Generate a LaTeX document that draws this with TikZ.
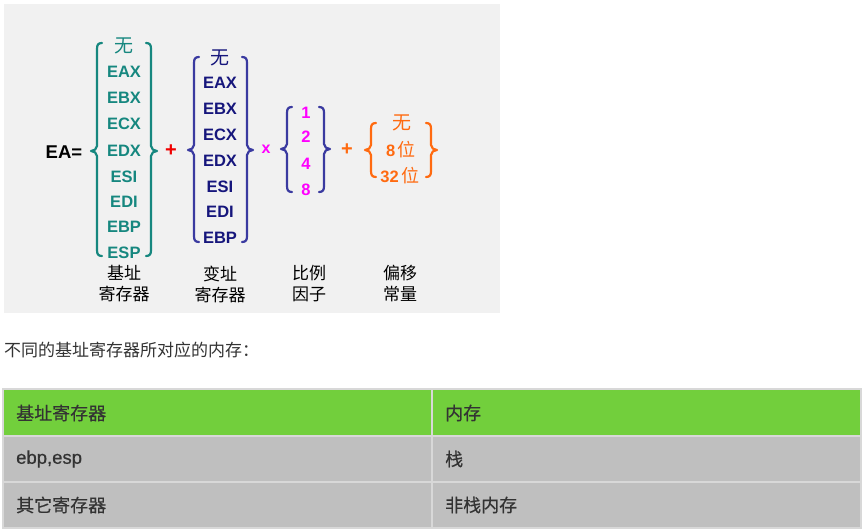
\documentclass[tikz,border=0pt]{standalone}
\usepackage{fontspec}
\setmainfont{Liberation Sans}
\newfontfamily\cjk{Noto Sans CJK SC}
\newfontfamily\cjkm[FakeBold=0.5]{Noto Sans CJK SC}
\newfontfamily\latm[FakeBold=0.5]{Liberation Sans}
\definecolor{bgtex}{HTML}{F1F1F1}
\definecolor{teal1}{HTML}{16877F}
\definecolor{navy1}{HTML}{16167C}
\definecolor{navybr}{HTML}{3A3AA0}
\definecolor{mag1}{HTML}{FF00FF}
\definecolor{orange1}{HTML}{FF6A10}
\definecolor{red1}{HTML}{F00000}
\definecolor{hdrgreen}{HTML}{72CF3C}
\definecolor{rowgray}{HTML}{BFBFBF}
\definecolor{gridgray}{HTML}{D8D8D8}
\definecolor{txt}{HTML}{333333}
\newcommand\Lbr[5]{\draw[#5,brline] (#1+5,#2) .. controls (#1+1,#2) and (#1,#2+2) .. (#1,#2+6) -- (#1,#4-5) .. controls (#1,#4-2) and (#1-3,#4) .. (#1-6,#4) .. controls (#1-3,#4) and (#1,#4+2) .. (#1,#4+5) -- (#1,#3-6) .. controls (#1,#3-2) and (#1+1,#3) .. (#1+5,#3);}
\newcommand\Rbr[5]{\draw[#5,brline] (#1-5,#2) .. controls (#1-1,#2) and (#1,#2+2) .. (#1,#2+6) -- (#1,#4-5) .. controls (#1,#4-2) and (#1+3,#4) .. (#1+6,#4) .. controls (#1+3,#4) and (#1,#4+2) .. (#1,#4+5) -- (#1,#3-6) .. controls (#1,#3-2) and (#1-1,#3) .. (#1-5,#3);}
\begin{document}
\begin{tikzpicture}[x=1pt,y=-1pt,
  brline/.style={line width=2.2pt,line cap=round,line join=round},
  reg/.style={font=\fontsize{16.5}{17}\selectfont\bfseries,inner sep=0pt,anchor=center},
  wu/.style={font=\fontsize{19}{20}\cjk,inner sep=0pt,anchor=center},
  lab/.style={font=\fontsize{17}{21}\cjk,inner sep=0pt,anchor=center,align=center,text=black},
  op/.style={font=\fontsize{20}{21}\selectfont\bfseries,inner sep=0pt,anchor=center},
  celltxt/.style={font=\fontsize{18}{20}\cjkm,text=txt,inner sep=0pt,anchor=west}]
\useasboundingbox (0,0) rectangle (862,529);
\fill[white] (0,0) rectangle (862,529);
% textured background panel
\fill[bgtex] (4,4) rectangle (500,313);
% EA=
\node[font=\fontsize{18.5}{19}\selectfont\bfseries,inner sep=0pt] (ea) at (64,152) {EA=};
% group 1 teal
\Lbr{97}{43}{256}{151}{teal1}
\Rbr{151}{43}{256}{151}{teal1}
\node[wu,text=teal1] (g1a) at (124,46) {无};
\node[reg,text=teal1] (g1b) at (124,72) {EAX};
\node[reg,text=teal1] (g1c) at (124,98) {EBX};
\node[reg,text=teal1] (g1d) at (124,124) {ECX};
\node[reg,text=teal1] (g1e) at (124,151) {EDX};
\node[reg,text=teal1] (g1f) at (124,177) {ESI};
\node[reg,text=teal1] (g1g) at (124,202) {EDI};
\node[reg,text=teal1] (g1h) at (124,227) {EBP};
\node[reg,text=teal1] (g1i) at (124,253) {ESP};
\node[op,text=red1] (plus1) at (171,151) {+};
% group 2 navy
\Lbr{194}{57}{242}{150}{navybr}
\Rbr{247}{57}{242}{150}{navybr}
\node[wu,text=navy1] (g2a) at (220,58) {无};
\node[reg,text=navy1] (g2b) at (220,83) {EAX};
\node[reg,text=navy1] (g2c) at (220,109) {EBX};
\node[reg,text=navy1] (g2d) at (220,135) {ECX};
\node[reg,text=navy1] (g2e) at (220,161) {EDX};
\node[reg,text=navy1] (g2f) at (220,187) {ESI};
\node[reg,text=navy1] (g2g) at (220,212) {EDI};
\node[reg,text=navy1] (g2h) at (220,238) {EBP};
\node[op,text=mag1,font=\fontsize{16}{17}\selectfont\bfseries] (times) at (266,149) {x};
% group 3
\Lbr{287}{107}{192}{149}{navybr}
\Rbr{324}{107}{192}{149}{navybr}
\node[reg,text=mag1] (g3a) at (306,113) {1};
\node[reg,text=mag1] (g3b) at (306,137) {2};
\node[reg,text=mag1] (g3c) at (306,164) {4};
\node[reg,text=mag1] (g3d) at (306,190) {8};
\node[op,text=orange1] (plus2) at (347,150) {+};
% group 4 orange
\Lbr{371}{123}{177}{150}{orange1}
\Rbr{431}{123}{177}{150}{orange1}
\node[wu,text=orange1] (g4a) at (402,123) {无};
\node[reg,text=orange1] (g4b) at (401,150) {8\,{\fontsize{18}{19}\cjk\mdseries 位}};
\node[reg,text=orange1] (g4c) at (400,176) {32\,{\fontsize{18}{19}\cjk\mdseries 位}};
% labels
\node[lab] (l1) at (124,284) {基址\\寄存器};
\node[lab] (l2) at (220,284) {变址\\寄存器};
\node[lab] (l3) at (309,284) {比例\\因子};
\node[lab] (l4) at (400,284) {偏移\\常量};
% caption
\node[font=\fontsize{17}{18}\cjk,text=txt,inner sep=0pt,anchor=west] (cap) at (4,350) {不同的基址寄存器所对应的内存：};
% table
\fill[hdrgreen] (3,389) rectangle (861,435.5);
\fill[rowgray] (3,435.5) rectangle (861,481.5);
\fill[rowgray] (3,481.5) rectangle (861,528);
\draw[gridgray,line width=2pt] (3,389) rectangle (861,528);
\draw[gridgray,line width=2pt] (3,435.5) -- (861,435.5);
\draw[gridgray,line width=2pt] (3,481.5) -- (861,481.5);
\draw[gridgray,line width=2pt] (432,389) -- (432,528);
\node[celltxt] (h1) at (16,413) {基址寄存器};
\node[celltxt] (h2) at (445,413) {内存};
\node[celltxt,font=\fontsize{18.5}{20}\latm] (r1a) at (16,459) {ebp,esp};
\node[celltxt] (r1b) at (445,459) {栈};
\node[celltxt] (r2a) at (16,505) {其它寄存器};
\node[celltxt] (r2b) at (445,505) {非栈内存};
\end{tikzpicture}
\end{document}
